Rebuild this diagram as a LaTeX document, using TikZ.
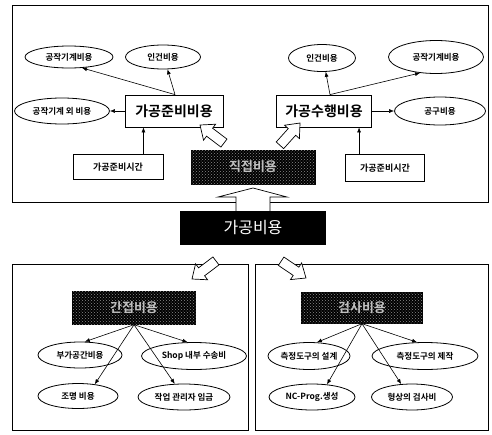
\documentclass[tikz,border=0pt]{standalone}
\usepackage{fontspec}
\setmainfont{Noto Sans CJK KR}[BoldFont={* Bold}]
\usetikzlibrary{shapes.geometric,arrows.meta,patterns}
\begin{document}
\begin{tikzpicture}[x=1pt,y=-1pt,
 ell/.style={ellipse,draw,line width=0.8pt,inner sep=0pt,font=\fontsize{8.5}{9}\selectfont\bfseries},
 cbox/.style={draw,line width=0.8pt,inner sep=0pt,font=\fontsize{14}{15}\selectfont\bfseries},
 tbox/.style={draw,line width=0.9pt,inner sep=0pt,font=\fontsize{9}{10}\selectfont\bfseries},
 dbox/.style={fill=black,draw=black,inner sep=0pt,text=white!75!black,
   postaction={pattern=crosshatch dots,pattern color=white!55!black},
   font=\fontsize{13}{14}\selectfont\bfseries},
 arr/.style={-{Latex[length=5pt,width=4pt]},line width=0.6pt},
 panel/.style={draw,line width=0.8pt},
 harrow/.pic={\draw[line width=0.7pt,fill=white] (0,0) -- (-12,10) -- (-12,5) -- (-30,5) -- (-30,-5) -- (-12,-5) -- (-12,-10) -- cycle;}]
\useasboundingbox (0,0) rectangle (492,434);
% panels
\draw[panel] (12,5) rectangle (488,202);
\draw[panel] (12,264) rectangle (248,430);
\draw[panel] (255,264) rectangle (488,430);

% top-left group
\node[ell,minimum width=88,minimum height=22] (e1) at (69,57) {공작기계비용};
\node[ell,minimum width=75,minimum height=24] (e2) at (163,57) {인건비용};
\node[ell,minimum width=95,minimum height=26] (e3) at (62,111) {공작기계 외 비용};
\node[cbox,minimum width=98,minimum height=32] (b1) at (174,111) {가공준비비용};
\node[tbox,minimum width=90,minimum height=25] (t1) at (118,167) {가공준비시간};

% top-right group
\node[cbox,minimum width=95,minimum height=32] (b2) at (324,111) {가공수행비용};
\node[ell,minimum width=67,minimum height=27] (e4) at (322,58) {인건비용};
\node[ell,minimum width=95,minimum height=33] (e5) at (436,57) {공작기계비용};
\node[ell,minimum width=91,minimum height=28] (e6) at (440,111) {공구비용};
\node[tbox,minimum width=79,minimum height=27] (t2) at (385,168) {가공준비시간};

% top dark box
\node[dbox,minimum width=124,minimum height=34] (d1) at (253,167) {직접비용};

% hollow arrows top
\pic[rotate=143] at (200,125) {harrow};
\pic[rotate=48] at (300,123) {harrow};

% up arrow and main box
\draw[line width=0.7pt,fill=white] (253,188) -- (287,197) -- (270,197) -- (270,212) -- (236,212) -- (236,197) -- (218,197) -- cycle;
\node[fill=black,inner sep=0pt,minimum width=146,minimum height=34,text=white,font=\fontsize{16}{18}\selectfont] (main) at (253,228) {가공비용};

% hollow arrows bottom
\pic[rotate=217] at (192,279) {harrow};
\pic[rotate=-34] at (306,278) {harrow};

% bottom-left group
\node[dbox,minimum width=123,minimum height=33] (d2) at (134,308) {간접비용};
\node[ell,minimum width=84,minimum height=26] (e7) at (80,355) {부가공간비용};
\node[ell,minimum width=105,minimum height=27] (e8) at (194,356) {Shop 내부 수송비};
\node[ell,minimum width=80,minimum height=25] (e9) at (78,396) {조명 비용};
\node[ell,minimum width=92,minimum height=26] (e10) at (184,397) {작업 관리자 임금};

% bottom-right group
\node[dbox,minimum width=121,minimum height=31] (d3) at (362,308) {검사비용};
\node[ell,minimum width=82,minimum height=27] (e11) at (309,356) {측정도구의 설계};
\node[ell,minimum width=106,minimum height=27] (e12) at (425,356) {측정도구의 제작};
\node[ell,minimum width=86,minimum height=26] (e13) at (312,397) {NC-Prog.생성};
\node[ell,minimum width=81,minimum height=26] (e14) at (412,397) {형상의 검사비};

% connectors top-left
\draw[arr] ([xshift=1]b1.north) -- (e1.-40);
\draw[arr] ([xshift=1]b1.north) -- (e2.-70);
\draw[arr] (b1.west) -- (e3.east);
\draw[arr] ([xshift=-20]t1.north east) -- ([xshift=-20]t1.north east |- b1.south);
% connectors top-right
\draw[arr] ([xshift=6]b2.north) -- (e4.-75);
\draw[arr] ([xshift=6]b2.north) -- (e5.-135);
\draw[arr] (b2.east) -- (e6.west);
\draw[arr] ([xshift=14]t2.north west) -- ([xshift=14]t2.north west |- b2.south);
% connectors bottom-left
\draw[arr] (d2.south) -- (e7.70);
\draw[arr] (d2.south) -- (e8.115);
\draw[arr] (d2.south) -- (e9.35);
\draw[arr] (d2.south) -- (e10.125);
% connectors bottom-right
\draw[arr] (d3.south) -- (e11.60);
\draw[arr] (d3.south) -- (e12.120);
\draw[arr] (d3.south) -- (e13.40);
\draw[arr] (d3.south) -- (e14.130);
\end{tikzpicture}
\end{document}
